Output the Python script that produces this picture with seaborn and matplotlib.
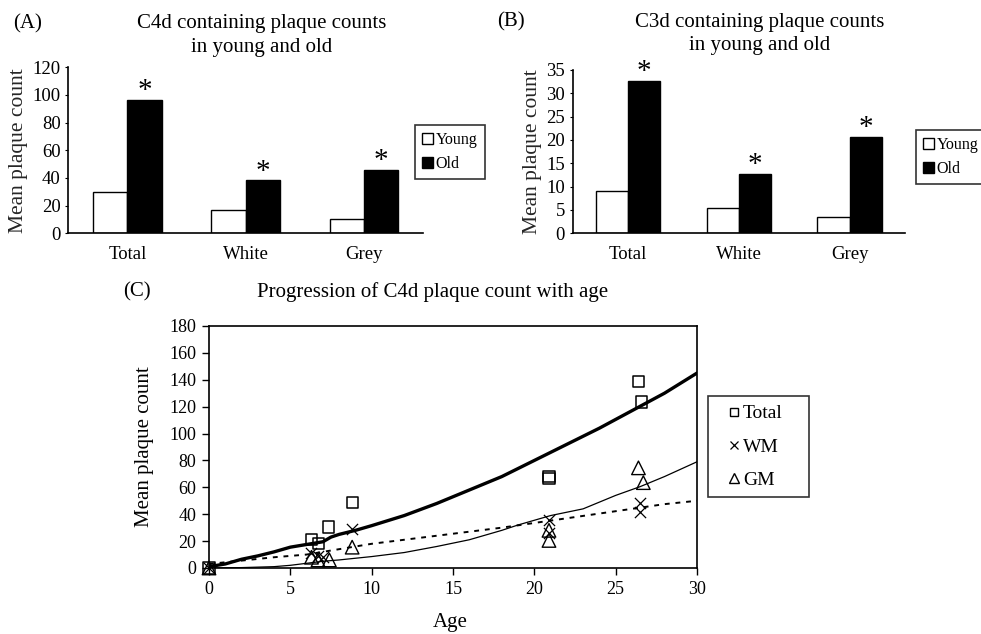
import matplotlib
matplotlib.use("Agg")
import matplotlib.pyplot as plt
from matplotlib.lines import Line2D
from matplotlib.patches import Patch
import pandas as pd
import seaborn as sns

# ---------------- data ----------------
categories = ["Total", "White", "Grey"]
groups = ["Young", "Old"]
c4d_young = [30, 17, 10]
c4d_old = [96.5, 38.5, 46]
c3d_young = [9, 5.4, 3.4]
c3d_old = [32.7, 12.8, 20.7]
c4d_ticks = [0, 20, 40, 60, 80, 100, 120]
c3d_ticks = [0, 5, 10, 15, 20, 25, 30, 35]

total_age = [0, 6.3, 6.75, 7.35, 8.8, 20.9, 20.9, 26.4, 26.6]
total_val = [0, 21, 18, 30.5, 49, 68, 66.5, 138.5, 123.5]
wm_age = [0, 6.3, 6.7, 7.0, 8.8, 20.9, 20.9, 26.5, 26.5]
wm_val = [0, 11, 9, 8, 29, 36, 26, 48, 42]
gm_age = [0, 6.3, 6.7, 7.4, 8.8, 20.9, 20.9, 26.4, 26.7]
gm_val = [0, 8, 6, 6, 15.5, 28, 20.5, 74.5, 63.5]

trend_total_age = [0, 1, 2, 3, 4, 5, 6, 7, 7.5, 8, 9, 10, 12, 14, 16, 18, 20, 22, 24, 26, 28, 30]
trend_total_val = [1, 3, 6.5, 9, 12, 15.5, 17.5, 19.5, 23, 25, 28, 31.5, 39, 48, 58, 68, 80, 92, 104, 117, 130, 145]
trend_gm_age = [0, 2, 4, 5, 6, 7, 8, 10, 12, 14, 16, 18, 19, 21, 23, 25, 26.5, 28, 30]
trend_gm_val = [0, 0.3, 1, 2, 3.5, 5, 6, 8.5, 11.5, 16, 21, 28, 32, 39, 44, 54, 60.5, 68, 79]
trend_wm_age = [0, 2, 4, 6, 8, 10, 12, 14, 16, 18, 20, 22, 24, 26, 28, 30]
trend_wm_val = [3, 5.5, 8, 10, 14, 18, 21, 24, 27, 30, 33.5, 37, 40.5, 44, 47.5, 50]

age_ticks = [0, 5, 10, 15, 20, 25, 30]
count_ticks = [0, 20, 40, 60, 80, 100, 120, 140, 160, 180]

# ---------------- style ----------------
sns.set_theme(style="white")
plt.rcParams["font.family"] = ["Liberation Serif", "DejaVu Serif"]
plt.rcParams["axes.edgecolor"] = "black"
plt.rcParams["text.color"] = "black"
plt.rcParams["xtick.color"] = "black"
plt.rcParams["ytick.color"] = "black"

W, H = 981, 634
fig = plt.figure(figsize=(W / 100, H / 100), dpi=100)
fig.patch.set_facecolor("white")


def px_rect(left, top, right, bottom):
    return [left / W, (H - bottom) / H, (right - left) / W, (bottom - top) / H]


def bar_panel(rect, young, old, ticks, legend_anchor):
    ax = fig.add_axes(rect)
    df = pd.DataFrame({
        "Region": categories * 2,
        "Group": ["Young"] * len(categories) + ["Old"] * len(categories),
        "Count": list(young) + list(old),
    })
    sns.barplot(data=df, x="Region", y="Count", hue="Group", order=categories,
                hue_order=groups, palette={"Young": "white", "Old": "black"},
                edgecolor="black", linewidth=1.0, width=0.58, gap=0,
                saturation=1, errorbar=None, legend=False, ax=ax)
    ax.set_xlim(-0.5, len(categories) - 0.5)
    ax.set_ylim(0, ticks[-1])
    ax.set_yticks(ticks)
    ax.set_xlabel("")
    ax.set_ylabel("Mean plaque count", fontsize=15.5, labelpad=3)
    for s in ["top", "right"]:
        ax.spines[s].set_visible(False)
    for s in ["left", "bottom"]:
        ax.spines[s].set_linewidth(1.2)
        ax.spines[s].set_color("black")
    ax.tick_params(axis="y", left=True, direction="out", length=2.5, width=0.8,
                   labelsize=13.5, pad=3)
    ax.tick_params(axis="x", bottom=False, length=0, labelsize=13.5, pad=9)
    for bar in ax.containers[1]:
        ax.annotate("*", (bar.get_x() + bar.get_width() / 2, bar.get_height()),
                    xytext=(0, 1), textcoords="offset points", ha="center",
                    va="baseline", fontsize=21, annotation_clip=False)
    handles = [Patch(facecolor="white", edgecolor="black", linewidth=1.0, label="Young"),
               Patch(facecolor="black", edgecolor="black", linewidth=1.0, label="Old")]
    leg = fig.legend(handles=handles, loc="upper left",
                     bbox_to_anchor=(legend_anchor[0] / W, (H - legend_anchor[1]) / H),
                     bbox_transform=fig.transFigure, frameon=True, fancybox=False,
                     fontsize=11.5, handlelength=0.7, handleheight=0.7,
                     handletextpad=0.15, labelspacing=0.5, borderpad=0.45,
                     borderaxespad=0)
    leg.get_frame().set_edgecolor("black")
    leg.get_frame().set_linewidth(1.2)
    return ax


axA = bar_panel(px_rect(68.3, 67.3, 423.3, 233.3), c4d_young, c4d_old, c4d_ticks, (415, 125))
axB = bar_panel(px_rect(572.7, 70, 905, 233.3), c3d_young, c3d_old, c3d_ticks, (916, 130))

# titles & panel letters
fig.text(262 / W, (H - 28.3) / H, "C4d containing plaque counts", ha="center", va="baseline", fontsize=15)
fig.text(262 / W, (H - 51.7) / H, "in young and old", ha="center", va="baseline", fontsize=15)
fig.text(760 / W, (H - 26.7) / H, "C3d containing plaque counts", ha="center", va="baseline", fontsize=15)
fig.text(760 / W, (H - 50) / H, "in young and old", ha="center", va="baseline", fontsize=15)
fig.text(13 / W, (H - 28.3) / H, "(A)", ha="left", va="baseline", fontsize=15)
fig.text(497 / W, (H - 26.7) / H, "(B)", ha="left", va="baseline", fontsize=15)
fig.text(151 / W, (H - 296.7) / H, "(C)", ha="right", va="baseline", fontsize=15)
fig.text(433 / W, (H - 296.7) / H, "Progression of C4d plaque count with age",
         ha="center", va="baseline", fontsize=15)

# ---------------- panel C ----------------
axC = fig.add_axes(px_rect(209, 326, 697, 568))
sns.lineplot(x=trend_total_age, y=trend_total_val, ax=axC, color="black", linewidth=2.4)
sns.lineplot(x=trend_gm_age, y=trend_gm_val, ax=axC, color="black", linewidth=0.9)
sns.lineplot(x=trend_wm_age, y=trend_wm_val, ax=axC, color="black", linewidth=1.4,
             linestyle=(0, (2.5, 3)))
sns.scatterplot(x=total_age, y=total_val, marker="s", s=64, facecolor="none",
                edgecolor="black", linewidth=1.1, ax=axC, clip_on=False, zorder=3)
sns.scatterplot(x=wm_age, y=wm_val, marker="x", s=65, color="black",
                linewidth=0.9, ax=axC, clip_on=False, zorder=3)
sns.scatterplot(x=gm_age, y=gm_val, marker="^", s=95, facecolor="none",
                edgecolor="black", linewidth=1.0, ax=axC, clip_on=False, zorder=3)
axC.set_xlim(age_ticks[0], age_ticks[-1])
axC.set_ylim(count_ticks[0], count_ticks[-1])
axC.set_xticks(age_ticks)
axC.set_yticks(count_ticks)
axC.set_xlabel("")
axC.set_ylabel("")
for s in axC.spines.values():
    s.set_visible(True)
    s.set_linewidth(1.2)
    s.set_color("black")
axC.tick_params(axis="both", direction="out", length=5, width=1, labelsize=13, pad=4,
                bottom=True, left=True)
fig.text(450 / W, (H - 627) / H, "Age", ha="center", va="baseline", fontsize=15)
fig.text(144 / W, (H - 447) / H, "Mean plaque count", ha="center", va="center",
         rotation=90, fontsize=15)

legC_handles = [
    Line2D([], [], marker="s", ls="none", mfc="none", mec="black", ms=5.5, mew=1.0, label="Total"),
    Line2D([], [], marker="x", ls="none", color="black", ms=6, mew=0.9, label="WM"),
    Line2D([], [], marker="^", ls="none", mfc="none", mec="black", ms=7, mew=1.0, label="GM"),
]
legC = fig.legend(handles=legC_handles, loc="upper left",
                  bbox_to_anchor=(708 / W, (H - 497) / H, 101 / W, 101 / H),
                  bbox_transform=fig.transFigure, mode="expand",
                  frameon=True, fancybox=False, fontsize=14, handlelength=1.8,
                  handletextpad=-0.45, labelspacing=0.8, borderpad=0.45, borderaxespad=0)
legC.get_frame().set_edgecolor("black")
legC.get_frame().set_linewidth(1.2)

fig.savefig("out.png", dpi=100, facecolor="white")
